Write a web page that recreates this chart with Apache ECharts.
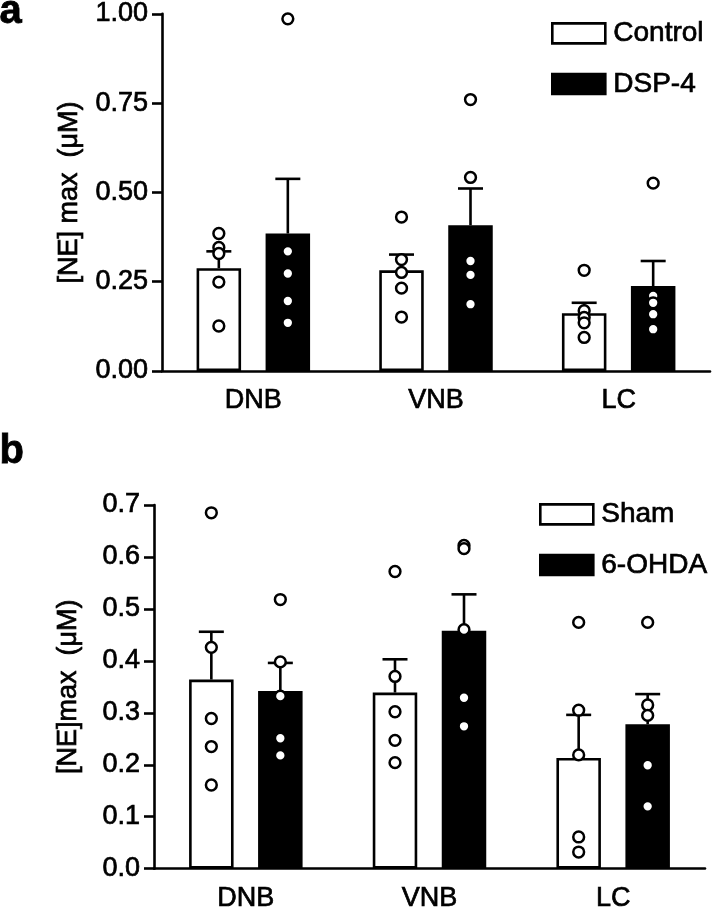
<!DOCTYPE html>
<html>
<head>
<meta charset="utf-8">
<script src="https://cdn.jsdelivr.net/npm/echarts@6/dist/echarts.min.js"></script>
<style>
html,body{margin:0;padding:0;background:#fff;}
#chart{width:714px;height:912px;}
</style>
</head>
<body>
<div id="chart"></div>
<script>
// ---------- DATA ----------
const categories = ['DNB', 'VNB', 'LC'];

// Panel a
const aTicks = [0, 0.25, 0.5, 0.75, 1.0];
const aControlMean = [0.288, 0.282, 0.162];
const aControlSem  = [0.047, 0.044, 0.029];
const aDspMean     = [0.385, 0.408, 0.238];
const aDspSem      = [0.153, 0.103, 0.070];
const aControlPoints = [
  [0.385, 0.346, 0.329, 0.249, 0.126],
  [0.431, 0.312, 0.276, 0.232, 0.151],
  [0.282, 0.169, 0.150, 0.135, 0.094]
];
const aDspPoints = [
  [0.986, 0.335, 0.273, 0.196, 0.135],
  [0.760, 0.542, 0.308, 0.269, 0.187],
  [0.526, 0.210, 0.191, 0.159, 0.117]
];

// Panel b
const bTicks = [0, 0.1, 0.2, 0.3, 0.4, 0.5, 0.6, 0.7];
const bShamMean = [0.364, 0.339, 0.213];
const bShamSem  = [0.092, 0.064, 0.083];
const bOhdaMean = [0.342, 0.458, 0.278];
const bOhdaSem  = [0.054, 0.070, 0.058];
const bShamPoints = [
  [0.685, 0.426, 0.289, 0.235, 0.161],
  [0.572, 0.370, 0.302, 0.247, 0.204],
  [0.474, 0.305, 0.219, 0.061, 0.032]
];
const bOhdaPoints = [
  [0.518, 0.398, 0.332, 0.251, 0.218],
  [0.622, 0.616, 0.460, 0.329, 0.274],
  [0.474, 0.315, 0.295, 0.199, 0.120]
];

// ---------- STYLE ----------
const FONT = 'Liberation Sans, Arial, Helvetica, sans-serif';
const LW = 2.6;
const BAR_W = 44.5;
const BAR_GAP_PX = 24.5;
const OFFSET = (BAR_W + BAR_GAP_PX) / 2;
const TB = {textBorderColor: '#000', textBorderWidth: 0.7};

function errRender(offset) {
  return function (params, api) {
    const c = api.value(0), m = api.value(1), s = api.value(2);
    const p0 = api.coord([c, m]);
    const p1 = api.coord([c, m + s]);
    const x = p0[0] + offset;
    return {
      type: 'group',
      children: [
        {type: 'line', shape: {x1: x, y1: p0[1], x2: x, y2: p1[1]}, style: {stroke: '#000', lineWidth: LW}},
        {type: 'line', shape: {x1: x - 12.5, y1: p1[1], x2: x + 12.5, y2: p1[1]}, style: {stroke: '#000', lineWidth: LW}}
      ]
    };
  };
}
function ptRender(offset) {
  return function (params, api) {
    const p = api.coord([api.value(0), api.value(1)]);
    return {
      type: 'circle',
      shape: {cx: p[0] + offset, cy: p[1], r: 5.4},
      style: {fill: '#fff', stroke: '#000', lineWidth: 2.5}
    };
  };
}
function errData(mean, sem) { return mean.map((m, i) => [i, m, sem[i]]); }
function ptData(pts) {
  const out = [];
  pts.forEach((arr, i) => arr.forEach(v => out.push([i, v])));
  return out;
}

function xAxisFor(gi) {
  return {
    type: 'category', gridIndex: gi, data: categories,
    axisLine: {lineStyle: {color: '#000', width: LW}},
    axisTick: {alignWithLabel: true, length: 11, lineStyle: {color: '#000', width: LW}},
    axisLabel: Object.assign({fontSize: 27, color: '#000', fontFamily: FONT, margin: 16}, TB),
    splitLine: {show: false}
  };
}
function yAxisFor(gi, ticks, dec, name, gap) {
  return {
    type: 'value', gridIndex: gi,
    min: ticks[0], max: ticks[ticks.length - 1], interval: ticks[1] - ticks[0],
    axisLine: {show: true, lineStyle: {color: '#000', width: LW}},
    axisTick: {show: true, length: 10, lineStyle: {color: '#000', width: LW}},
    axisLabel: Object.assign({fontSize: 27, color: '#000', fontFamily: FONT, margin: 14,
      formatter: v => v.toFixed(dec)}, TB),
    splitLine: {show: false},
    name: name, nameLocation: 'middle', nameGap: gap,
    nameTextStyle: Object.assign({fontSize: 27, color: '#000', fontFamily: FONT}, TB)
  };
}
function barSeries(name, gi, mean, fill) {
  return {
    name: name, type: 'bar', xAxisIndex: gi, yAxisIndex: gi, data: mean,
    barWidth: BAR_W, barGap: (BAR_GAP_PX / BAR_W * 100) + '%',
    itemStyle: {color: fill, borderColor: '#000', borderWidth: LW},
    z: 2, silent: true
  };
}
function errSeries(gi, mean, sem, off) {
  return {type: 'custom', xAxisIndex: gi, yAxisIndex: gi, renderItem: errRender(off),
    data: errData(mean, sem), z: 3, silent: true};
}
function ptSeries(gi, pts, off) {
  return {type: 'custom', xAxisIndex: gi, yAxisIndex: gi, renderItem: ptRender(off),
    data: ptData(pts), z: 4, silent: true};
}
function legendFor(names, left, top) {
  return {
    data: names, left: left, top: top, orient: 'vertical', padding: 0,
    itemWidth: 53, itemHeight: 20, itemGap: 22, icon: 'rect', selectedMode: false,
    itemStyle: {borderColor: '#000', borderWidth: LW},
    textStyle: Object.assign({fontSize: 28, color: '#000', fontFamily: FONT, lineHeight: 22, padding: [0, 0, 0, 3]}, TB)
  };
}

const chart = echarts.init(document.getElementById('chart'), null, {renderer: 'canvas'});
chart.setOption({
  animation: false,
  backgroundColor: '#fff',
  grid: [
    {left: 162, right: 4, top: 5, height: 366},
    {left: 154, right: 9, top: 505, height: 367}
  ],
  xAxis: [xAxisFor(0), xAxisFor(1)],
  yAxis: [
    yAxisFor(0, aTicks, 2, '[NE] max  (μM)', 79),
    yAxisFor(1, bTicks, 1, '[NE]max  (μM)', 72)
  ],
  legend: [
    legendFor(['Control', 'DSP-4'], 551, 19),
    legendFor(['Sham', '6-OHDA'], 539, 500)
  ],
  graphic: [
    {type: 'text', left: -1, top: -8, style: {text: 'a', fontSize: 40, fontWeight: 'bold', fill: '#000', fontFamily: FONT, stroke: '#000', lineWidth: 0.8}},
    {type: 'text', left: -1, top: 432, style: {text: 'b', fontSize: 40, fontWeight: 'bold', fill: '#000', fontFamily: FONT, stroke: '#000', lineWidth: 0.8}}
  ],
  series: [
    barSeries('Control', 0, aControlMean, '#fff'),
    barSeries('DSP-4', 0, aDspMean, '#000'),
    errSeries(0, aControlMean, aControlSem, -OFFSET),
    errSeries(0, aDspMean, aDspSem, OFFSET),
    ptSeries(0, aControlPoints, -OFFSET),
    ptSeries(0, aDspPoints, OFFSET),
    barSeries('Sham', 1, bShamMean, '#fff'),
    barSeries('6-OHDA', 1, bOhdaMean, '#000'),
    errSeries(1, bShamMean, bShamSem, -OFFSET),
    errSeries(1, bOhdaMean, bOhdaSem, OFFSET),
    ptSeries(1, bShamPoints, -OFFSET),
    ptSeries(1, bOhdaPoints, OFFSET)
  ]
});
</script>
</body>
</html>
